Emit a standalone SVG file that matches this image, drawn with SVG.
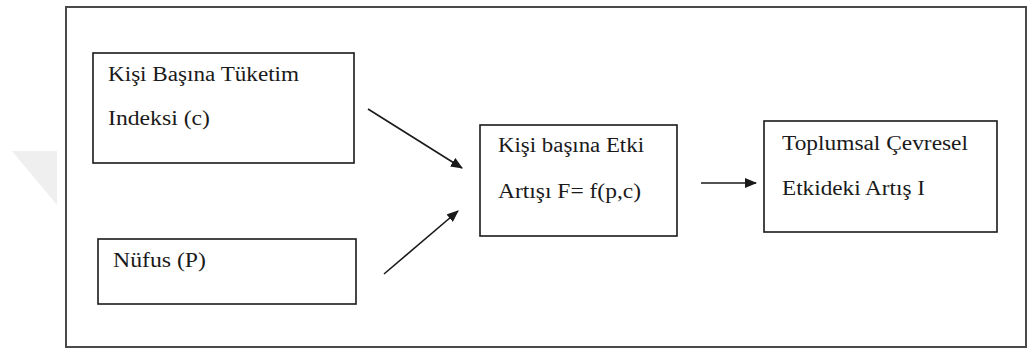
<svg xmlns="http://www.w3.org/2000/svg" width="1029" height="349" viewBox="0 0 1029 349">
  <style>
    .frame { fill: none; stroke: #4a4a4a; stroke-width: 2; }
    .box { fill: #ffffff; stroke: #1a1a1a; stroke-width: 1.6; }
    .lbl { font-family: "Times New Roman", Times, "Liberation Serif", "DejaVu Serif", "Noto Serif", serif; font-size: 20px; fill: #1a1a1a; }
    .edge { stroke: #1a1a1a; stroke-width: 1.6; fill: none; marker-end: url(#head); }
  </style>
  <defs>
    <marker id="head" viewBox="0 0 12 10" refX="11" refY="5" markerWidth="12" markerHeight="10" markerUnits="userSpaceOnUse" orient="auto">
      <path d="M0,0 L12,5 L0,10 Z" fill="#1a1a1a"/>
    </marker>
  </defs>

  <rect width="1029" height="349" fill="#ffffff"/>
  <!-- faint corner mark -->
  <polygon points="12,151 57,151 57,205" fill="#efefef"/>

  <!-- outer frame -->
  <rect class="frame" x="66" y="7" width="960" height="340"/>

  <g id="node-tuketim">
    <rect class="box" x="93" y="53" width="261" height="110"/>
    <text class="lbl" x="108" y="81" textLength="191" lengthAdjust="spacingAndGlyphs">Kişi Başına Tüketim</text>
    <text class="lbl" x="108" y="125" textLength="102" lengthAdjust="spacingAndGlyphs">Indeksi (c)</text>
  </g>

  <g id="node-nufus">
    <rect class="box" x="98" y="239" width="258" height="65"/>
    <text class="lbl" x="113" y="267" textLength="93" lengthAdjust="spacingAndGlyphs">Nüfus (P)</text>
  </g>

  <g id="node-etki">
    <rect class="box" x="480" y="125" width="197" height="111"/>
    <text class="lbl" x="498" y="152" textLength="146" lengthAdjust="spacingAndGlyphs">Kişi başına Etki</text>
    <text class="lbl" x="498" y="198" textLength="143" lengthAdjust="spacingAndGlyphs">Artışı F= f(p,c)</text>
  </g>

  <g id="node-toplumsal">
    <rect class="box" x="764" y="121" width="233" height="111"/>
    <text class="lbl" x="782" y="150" textLength="186" lengthAdjust="spacingAndGlyphs">Toplumsal Çevresel</text>
    <text class="lbl" x="782" y="195" textLength="143" lengthAdjust="spacingAndGlyphs">Etkideki Artış I</text>
  </g>

  <g id="connectors">
    <line class="edge" x1="368" y1="109" x2="462" y2="168"/>
    <line class="edge" x1="384" y1="274" x2="458" y2="211"/>
    <line class="edge" x1="701" y1="183" x2="756" y2="183"/>
  </g>
</svg>
